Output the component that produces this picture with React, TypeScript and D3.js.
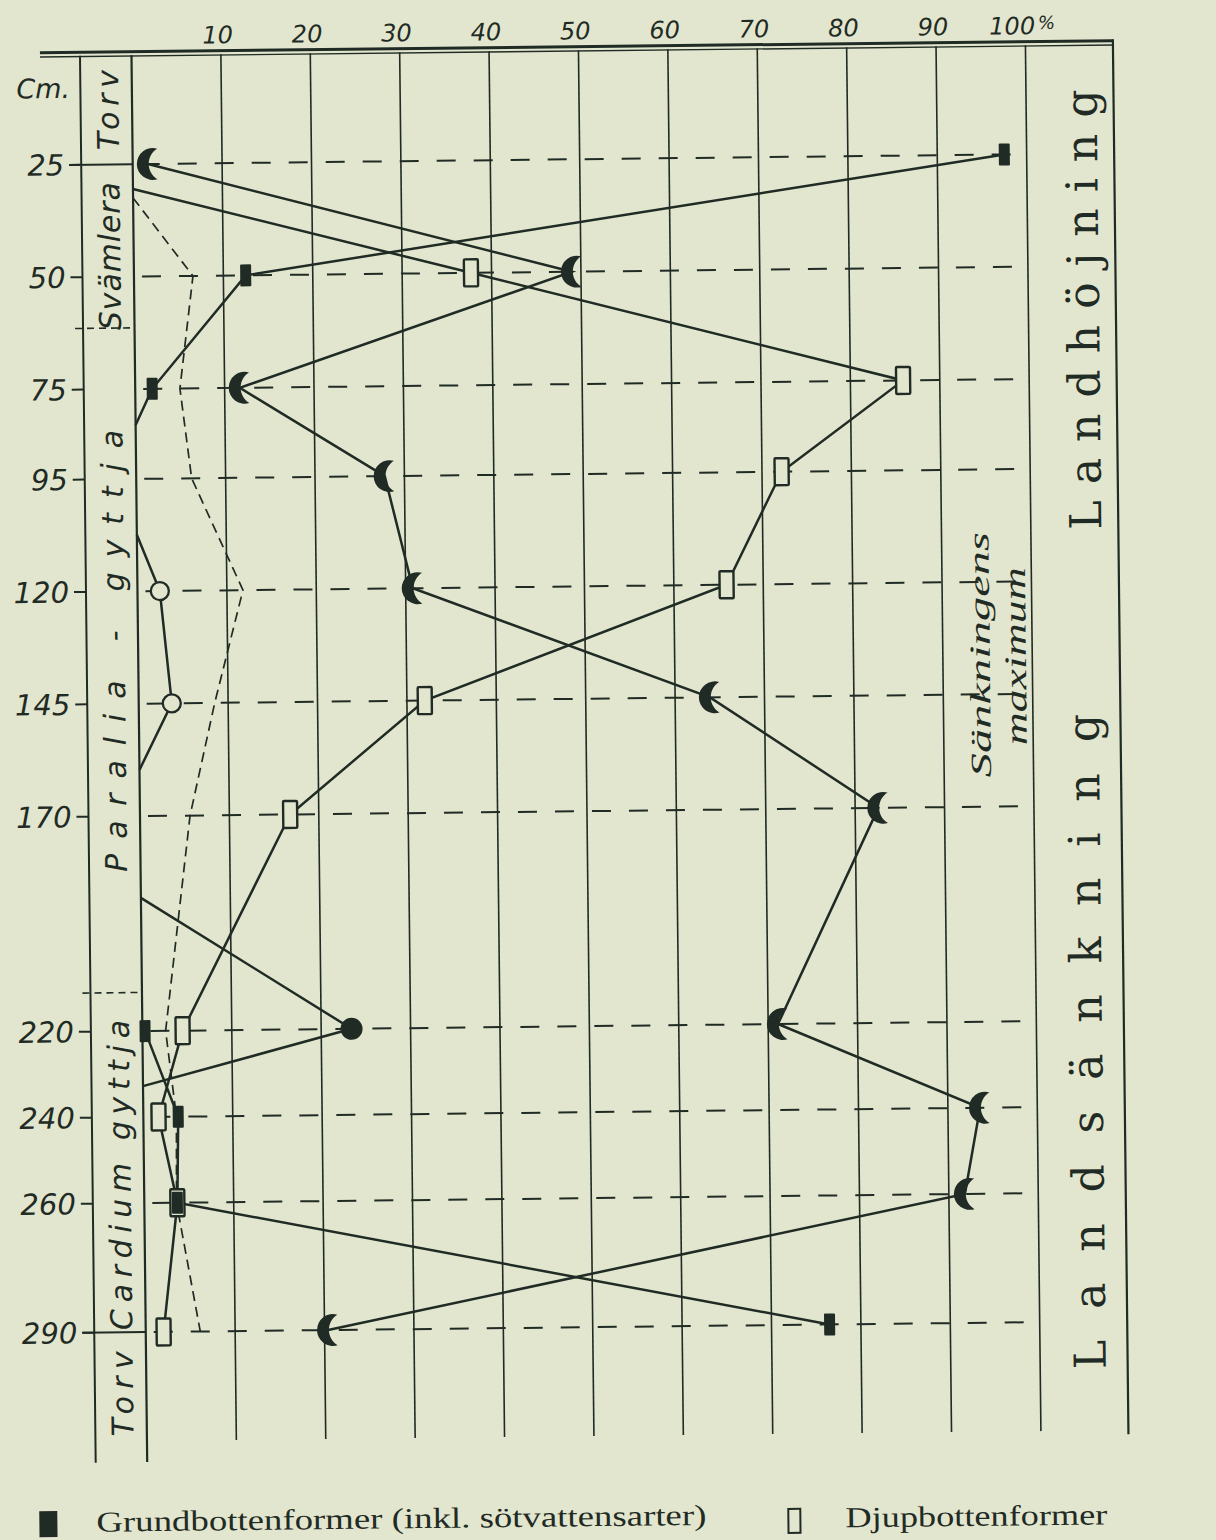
import React from 'react';
import * as d3 from 'd3';

const width = 1216;
const height = 1540;
const ink = '#1f2b24';
const paper = '#e3e6ce';
const handFont = '"DejaVu Sans", sans-serif';
const serifFont = '"DejaVu Serif", serif';
const bookFont = '"Liberation Serif", serif';

// percent axis (top) and sampled depths (cm)
const pctTicks = [10, 20, 30, 40, 50, 60, 70, 80, 90, 100];
const sampleDepths = [25, 50, 75, 95, 120, 145, 170, 220, 240, 260, 290];

// [depth cm, percent] – points where a line meets 0 % are line ends only
const grundUpper: [number, number][] = [[25, 97.5], [50, 12.5], [75, 1.9], [83, 0]];
const grundLower: [number, number][] = [[220, 0.3], [240, 3.9], [260, 3.7], [290, 76.5]];
const djup: [number, number][] = [
  [30.5, 0], [50, 37.7], [75, 85.9], [95, 72.2], [120, 65.9], [145, 32.0],
  [170, 16.8], [220, 4.5], [240, 1.7], [260, 3.7], [290, 2.0],
];
const crescent: [number, number][] = [
  [25, 1.7], [50, 49.0], [75, 11.7], [95, 27.8], [120, 30.8], [145, 63.9],
  [170, 82.6], [220, 71.1], [240, 93.6], [260, 91.8], [290, 20.4],
];
const openCircle: [number, number][] = [[107.4, 0], [120, 2.5], [145, 3.7], [159.7, 0]];
const filledCircle: [number, number][] = [[189, 0], [220, 23.4], [232.8, 0]];
const dashedSeries: [number, number][] = [
  [32.5, 0], [50, 6.6], [75, 5.0], [95, 6.2], [120, 11.8], [145, 8.5],
  [170, 5.6], [220, 2.6], [240, 3.7], [260, 3.6], [290, 6.1],
];

// sediment layers in the left column
const layerBounds = [25, 61.4, 211, 290];
const layerBoundDashed = [false, true, true, false];
const layerNames = ['Torv', 'Svämlera', 'Paralia - gyttja', 'Cardium gyttja', 'Torv'];
const layerMids = [12.9, 45.4, 133.2, 253.4, 304.3];
const layerTextLen = [80, 148, 442, 310, 85];

const xScale = d3.scaleLinear().domain([0, 100]).range([139.5, 1033.5]);
const yScale = d3.scaleLinear().domain([0, 170, 320]).range([46.6, 811, 1456]);

const colLeft = 88;
const borderX = 1121;
const gridBottom = 1436;
const colBottom = 1457;

const line = d3.line<[number, number]>()
  .x(d => xScale(d[1]))
  .y(d => yScale(d[0]));

const isSample = (d: [number, number]) => sampleDepths.includes(d[0]);

const crescentPath = 'M4,-13.9 A14.5,14.5 0 1,0 4,13.9 A16.25,16.25 0 0,1 4,-13.9 Z';

const App: React.FC = () => {
  const seriesLines = [grundUpper, grundLower, djup, crescent, openCircle, filledCircle];

  return (
    <svg width={width} height={height} style={{position: 'absolute', left: 0, top: 0}}>
      <rect width={width} height={height} fill={paper} />
      <g transform="rotate(-0.64 600 770)">
        {/* top double line */}
        <line x1={48} x2={borderX} y1={46.5} y2={46.5} stroke={ink} strokeWidth={3} />
        <line x1={48} x2={borderX} y1={50.8} y2={50.8} stroke={ink} strokeWidth={1.4} />

        {/* percent labels */}
        {pctTicks.map(t => (
          <text key={t} x={xScale(t) - 3} y={39} textAnchor="middle" fontFamily={handFont}
            fontStyle="italic" fontSize={24} fill={ink}>
            {t}
            {t === 100 && <tspan fontSize={18} dy={-5} dx={3}>%</tspan>}
          </text>
        ))}

        {/* vertical grid */}
        {pctTicks.map(t => (
          <line key={t} x1={xScale(t)} x2={xScale(t)} y1={50} y2={gridBottom}
            stroke={ink} strokeWidth={1.6} />
        ))}
        <line x1={xScale(0)} x2={xScale(0)} y1={50} y2={colBottom} stroke={ink} strokeWidth={2.2} />
        <line x1={colLeft} x2={colLeft} y1={50} y2={colBottom} stroke={ink} strokeWidth={2} />
        <line x1={borderX} x2={borderX} y1={45} y2={gridBottom + 4} stroke={ink} strokeWidth={2.2} />

        {/* depth rows */}
        {sampleDepths.map(d => (
          <g key={d}>
            <line x1={xScale(0)} x2={xScale(100)} y1={yScale(d)} y2={yScale(d)}
              stroke={ink} strokeWidth={2} strokeDasharray="19 18" strokeDashoffset={-8} />
            <line x1={76} x2={colLeft} y1={yScale(d)} y2={yScale(d)} stroke={ink} strokeWidth={2} />
            <text x={71} y={yScale(d)} dy="0.36em" textAnchor="end" fontFamily={handFont}
              fontStyle="italic" fontSize={29} fill={ink}>{d}</text>
          </g>
        ))}
        <text x={24} y={92} fontFamily={handFont} fontStyle="italic" fontSize={27} fill={ink}>Cm.</text>

        {/* layer boundaries and names */}
        {layerBounds.map((b, i) => (
          <line key={b} x1={layerBoundDashed[i] ? 80 : 76} x2={xScale(0)} y1={yScale(b)} y2={yScale(b)}
            stroke={ink} strokeWidth={layerBoundDashed[i] ? 1.6 : 2}
            strokeDasharray={layerBoundDashed[i] ? '7 5' : undefined} />
        ))}
        {layerNames.map((n, i) => (
          <text key={i} transform={`translate(126, ${yScale(layerMids[i])}) rotate(-90)`}
            textAnchor="middle" fontFamily={handFont} fontStyle="italic" fontSize={30}
            fill={ink} textLength={layerTextLen[i]} lengthAdjust="spacing">{n}</text>
        ))}

        {/* dashed series */}
        <path d={line(dashedSeries) || ''} fill="none" stroke={ink} strokeWidth={1.7}
          strokeDasharray="10 6" />

        {/* solid series lines */}
        {seriesLines.map((s, i) => (
          <path key={i} d={line(s) || ''} fill="none" stroke={ink} strokeWidth={2.5} />
        ))}

        {/* markers */}
        {crescent.filter(isSample).map(d => (
          <path key={d[0]} d={crescentPath}
            transform={`translate(${xScale(d[1]) + 5}, ${yScale(d[0])}) scale(1.1)`} fill={ink} />
        ))}
        {openCircle.filter(isSample).map(d => (
          <circle key={d[0]} cx={xScale(d[1])} cy={yScale(d[0])} r={9}
            fill={paper} stroke={ink} strokeWidth={2.3} />
        ))}
        {filledCircle.filter(isSample).map(d => (
          <circle key={d[0]} cx={xScale(d[1])} cy={yScale(d[0])} r={11} fill={ink} />
        ))}
        {djup.filter(isSample).map(d => (
          <rect key={d[0]} x={xScale(d[1]) - 7} y={yScale(d[0]) - 13.5} width={14} height={27}
            rx={1} fill={paper} stroke={ink} strokeWidth={2.4} />
        ))}
        {[...grundUpper, ...grundLower].filter(isSample).map(d => (
          <rect key={d[0]} x={xScale(d[1]) - 5.5} y={yScale(d[0]) - 11} width={11} height={22}
            rx={1} fill={ink} />
        ))}

        {/* right side annotations */}
        <text transform="translate(991, 659) rotate(-90)" textAnchor="middle" fontFamily={bookFont}
          fontStyle="italic" fontSize={29} fill={ink} textLength={245}
          lengthAdjust="spacingAndGlyphs">Sänkningens</text>
        <text transform="translate(1027, 661) rotate(-90)" textAnchor="middle" fontFamily={bookFont}
          fontStyle="italic" fontSize={31} fill={ink} textLength={178}
          lengthAdjust="spacingAndGlyphs">maximum</text>
        <text transform="translate(1104, 315) rotate(-90)" textAnchor="middle" fontFamily={serifFont}
          fontSize={44} fill={ink} textLength={440} lengthAdjust="spacing">Landhöjning</text>
        <text transform="translate(1099, 1047) rotate(-90)" textAnchor="middle" fontFamily={serifFont}
          fontSize={44} fill={ink} textLength={655} lengthAdjust="spacing">Landsänkning</text>

        {/* legend */}
        <rect x={31} y={1505} width={18} height={26} fill={ink} />
        <text x={88} y={1526} fontFamily={bookFont} fontSize={29} fill={ink} textLength={610}
          lengthAdjust="spacingAndGlyphs">Grundbottenformer (inkl. sötvattensarter)</text>
        <rect x={780} y={1511} width={12} height={24} fill="none" stroke={ink} strokeWidth={2} />
        <text x={837} y={1530} fontFamily={bookFont} fontSize={29} fill={ink} textLength={262}
          lengthAdjust="spacingAndGlyphs">Djupbottenformer</text>
      </g>
    </svg>
  );
};

export default App;
